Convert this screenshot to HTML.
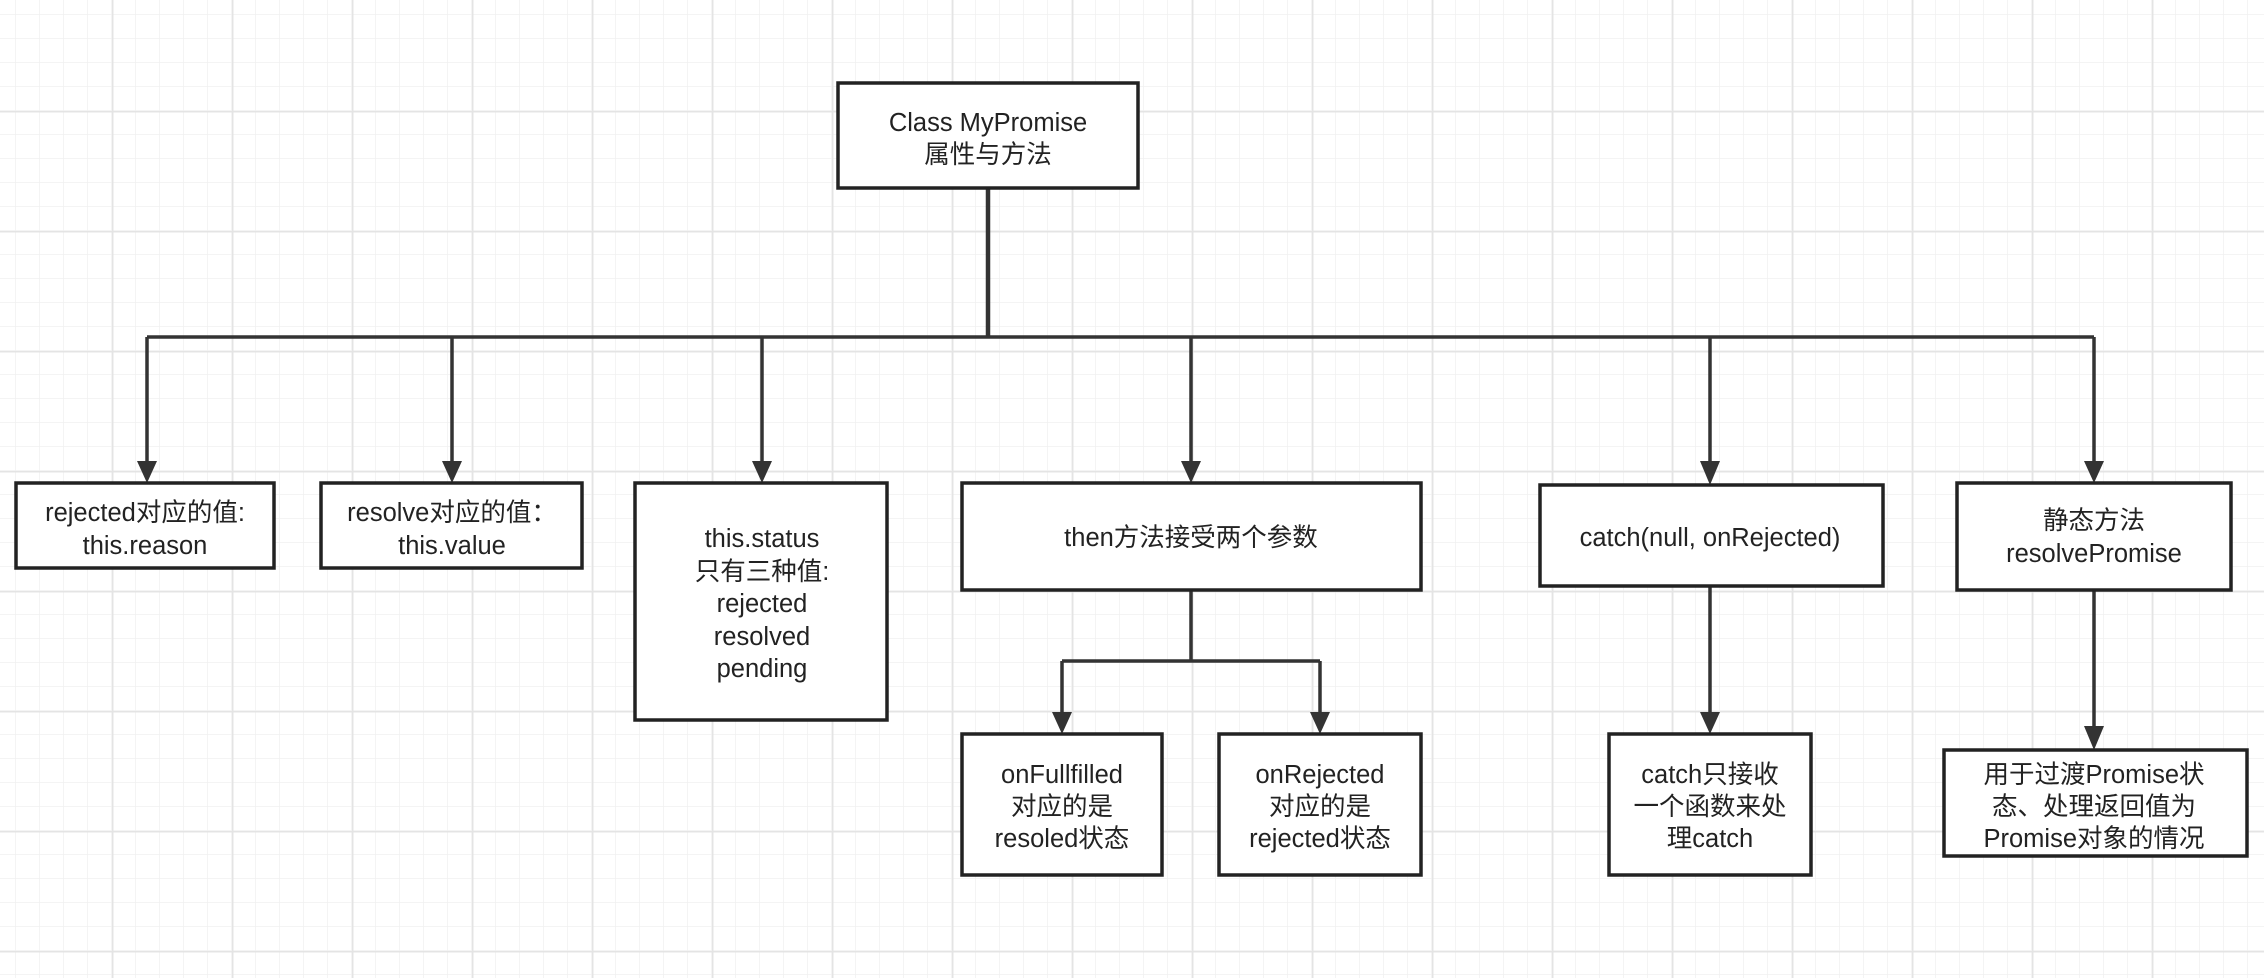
<!DOCTYPE html>
<html><head><meta charset="utf-8"><style>
html,body{margin:0;padding:0;background:#fff;}
svg{display:block;}
text{font-family:"Liberation Sans","Noto Sans CJK SC",sans-serif;font-size:25.5px;fill:#222;text-anchor:middle;}
</style></head><body>
<svg width="2264" height="978" viewBox="0 0 2264 978" xmlns="http://www.w3.org/2000/svg">
<defs>
<pattern id="minor" x="16" y="15" width="24" height="24" patternUnits="userSpaceOnUse">
<path d="M24 0V24M0 24H24" fill="none" stroke="#f0f0f0" stroke-width="1.5"/>
</pattern>
<pattern id="major" x="112" y="111" width="120" height="120" patternUnits="userSpaceOnUse">
<path d="M0.5 0V120M0 0.5H120" fill="none" stroke="#e4e4e4" stroke-width="2"/>
</pattern>
</defs>
<rect width="2264" height="978" fill="#fff"/>
<rect width="2264" height="978" fill="url(#minor)"/>
<rect width="2264" height="978" fill="url(#major)"/>

<g fill="none" stroke="#333" stroke-width="3.5">
<path d="M988 188V337" stroke-width="4.5"/>
<path d="M147 337H2094"/>
<path d="M147 337V462M452 337V462M762 337V462M1191 337V462M1710 337V462M2094 337V462"/>
<path d="M1191 590V661M1062 661H1320M1062 661V713M1320 661V713"/>
<path d="M1710 586V713M2094 590V727"/>
</g>
<g fill="#333">
<path d="M137 461L157 461L147 483Z"/>
<path d="M442 461L462 461L452 483Z"/>
<path d="M752 461L772 461L762 483Z"/>
<path d="M1181 461L1201 461L1191 483Z"/>
<path d="M1700 461L1720 461L1710 485Z"/>
<path d="M2084 461L2104 461L2094 483Z"/>
<path d="M1052 712L1072 712L1062 734Z"/>
<path d="M1310 712L1330 712L1320 734Z"/>
<path d="M1700 712L1720 712L1710 734Z"/>
<path d="M2084 726L2104 726L2094 750Z"/>
</g>
<g fill="#fff" stroke="#222" stroke-width="3.5">
<rect x="838" y="83" width="300" height="105"/>
<rect x="16" y="483" width="258" height="85"/>
<rect x="321" y="483" width="261" height="85"/>
<rect x="635" y="483" width="252" height="237"/>
<rect x="962" y="483" width="459" height="107"/>
<rect x="1540" y="485" width="343" height="101"/>
<rect x="1957" y="483" width="274" height="107"/>
<rect x="962" y="734" width="200" height="141"/>
<rect x="1219" y="734" width="202" height="141"/>
<rect x="1609" y="734" width="202" height="141"/>
<rect x="1944" y="750" width="303" height="106"/>
</g>
<text x="988" y="131">Class MyPromise</text>
<text x="988" y="163">属性与方法</text>
<text x="145" y="521">rejected对应的值:</text>
<text x="145" y="554">this.reason</text>
<text x="452" y="521">resolve对应的值：</text>
<text x="452" y="554">this.value</text>
<text x="762" y="547">this.status</text>
<text x="762" y="580">只有三种值:</text>
<text x="762" y="612">rejected</text>
<text x="762" y="645">resolved</text>
<text x="762" y="677">pending</text>
<text x="1191" y="546">then方法接受两个参数</text>
<text x="1710" y="546">catch(null, onRejected)</text>
<text x="2094" y="529">静态方法</text>
<text x="2094" y="562">resolvePromise</text>
<text x="1062" y="783">onFullfilled</text>
<text x="1062" y="815">对应的是</text>
<text x="1062" y="847">resoled状态</text>
<text x="1320" y="783">onRejected</text>
<text x="1320" y="815">对应的是</text>
<text x="1320" y="847">rejected状态</text>
<text x="1710" y="783">catch只接收</text>
<text x="1710" y="815">一个函数来处</text>
<text x="1710" y="847">理catch</text>
<text x="2094" y="783">用于过渡Promise状</text>
<text x="2094" y="815">态、处理返回值为</text>
<text x="2094" y="847">Promise对象的情况</text>
</svg>
</body></html>
